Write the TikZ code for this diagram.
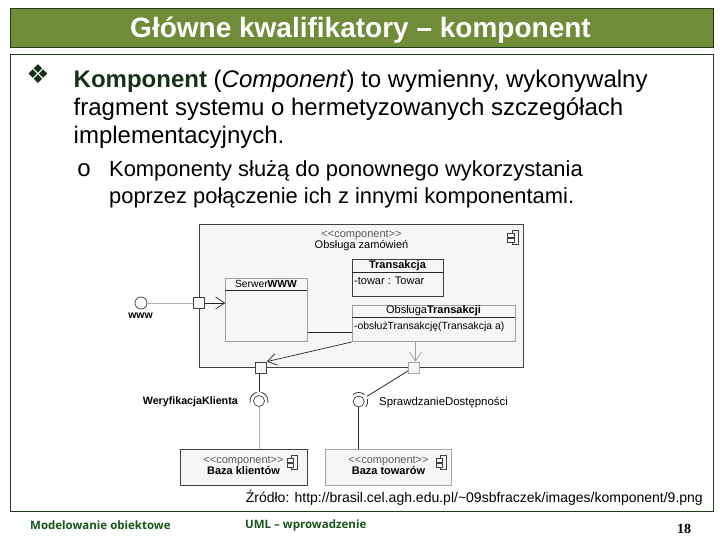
\documentclass[tikz,border=0pt]{standalone}
\usepackage{fontspec}
\setmainfont{Liberation Sans}
\newfontfamily\symfont{DejaVu Sans}
\newfontfamily\footfont[Ligatures=TeX]{Open Sans}
\newfontfamily\monofont{Liberation Mono}
\newfontfamily\numfont{Liberation Serif}
\usetikzlibrary{positioning, arrows.meta, calc}
\definecolor{titlebar}{RGB}{112, 140, 56}
\definecolor{edge}{RGB}{30, 60, 25}
\definecolor{boldtxt}{RGB}{22, 50, 22}
\definecolor{footgreen}{RGB}{25, 85, 25}
\definecolor{umlfill}{RGB}{246, 246, 246}
\newcommand{\stereo}{\textcolor{black!65}{<{}<component>{}>}}
\begin{document}
\begin{tikzpicture}[
    x=1pt, y=-1pt,
    >=Stealth,
    framebox/.style={
        rectangle, draw=edge, line width=0.8pt,
        anchor=north west, inner sep=0pt,
    },
    bodytext/.style={
        anchor=north west, align=left, inner sep=0pt,
        font=\fontsize{24}{28}\selectfont,
    },
    umlbox/.style={
        rectangle, draw=black!75, fill=umlfill, line width=0.9pt,
        anchor=north west, inner sep=0pt,
    },
    umlclass/.style={
        rectangle, draw=gray!75, fill=umlfill, line width=1pt,
        anchor=north west, inner sep=0pt,
    },
    port/.style={
        rectangle, draw=black!75, fill=umlfill, line width=0.8pt,
        minimum size=11pt, inner sep=0pt,
    },
    ball/.style={
        circle, draw=black!75, fill=white, line width=0.7pt,
        minimum size=#1, inner sep=0pt,
    },
    umllabel/.style={font=\fontsize{11}{11}\selectfont, inner sep=0pt, align=center},
    umlwire/.style={line width=0.8pt, draw=black!85},
    umlgray/.style={line width=1pt, draw=gray!60},
    socket/.style={line width=0.8pt, draw=black!80},
    openarrow/.style={-{Straight Barb[length=9pt,width=12pt]}, line width=0.7pt, draw=black!85},
    footlabel/.style={
        font=\footfont\bfseries\fontsize{11.5}{13}\selectfont,
        text=footgreen, anchor=west, inner sep=0pt,
    },
]
\path[use as bounding box, fill=white] (0,0) rectangle (720,540);

% =================================================
% Slide frame
% =================================================
\node[framebox, fill=titlebar, minimum width=703pt, minimum height=39pt] (titlebar) at (9.5,8.5) {};
\node[font=\bfseries\fontsize{28}{30}\selectfont, text=white, inner sep=0pt] (titletxt) at (360.5,30)
    {Główne kwalifikatory -- komponent};
\node[framebox, minimum width=703pt, minimum height=457pt] (bodyframe) at (9.5,54) {};

% =================================================
% Slide text
% =================================================
\node[font=\symfont\fontsize{26}{26}\selectfont, text=boldtxt, inner sep=0pt] (bullone) at (38,74) {❖};
\node[bodytext] (para) at (73.5,70)
    {\textcolor{boldtxt}{\textbf{Komponent}} (\textit{Component}) to wymienny, wykonywalny\\
    fragment systemu o hermetyzowanych szczegółach\\
    implementacyjnych.};
\node[font=\monofont\fontsize{24}{24}\selectfont, inner sep=0pt] (bulltwo) at (84,170) {o};
\node[bodytext, font=\fontsize{21.9}{27}\selectfont] (subpara) at (109,160)
    {Komponenty służą do ponownego wykorzystania\\
    poprzez połączenie ich z innymi komponentami.};

% =================================================
% Component boxes
% =================================================
\node[umlbox, minimum width=324.6pt, minimum height=143.6pt] (obsluga) at (198.7,223.7) {};
\node[umllabel] (obslugatxt) at (361.5,240.5)
    {\stereo\\Obsługa zamówień};
\draw[line width=0.7pt, draw=black!75] (512,230) rectangle (518.5,244);
\draw[line width=0.7pt, draw=black!75, fill=umlfill] (507.5,233) rectangle (514,237);
\draw[line width=0.7pt, draw=black!75, fill=umlfill] (507.5,238) rectangle (514,242);

\node[umlclass, minimum width=81.7pt, minimum height=63.3pt] (serwer) at (225.3,277.7) {};
\draw[line width=0.8pt, draw=black!85] (serwer.north west) ++(0,12.6) -- ++(81.7,0);
\node[umllabel, font=\fontsize{10.3}{11}\selectfont] (serwertxt) at (266,284) {Serwer\textbf{WWW}};

\node[umlclass, draw=black!75, minimum width=91pt, minimum height=36.4pt] (transakcja) at (351.7,259.3) {};
\draw[line width=0.8pt, draw=black!85] (transakcja.north west) ++(0,13) -- ++(91,0);
\node[umllabel] (transakcjatxt) at (397.5,266) {\textbf{Transakcja}};
\node[umllabel, anchor=west] (towartxt) at (354,281) {-towar : Towar};

\node[umlclass, minimum width=163.3pt, minimum height=36pt] (obtrans) at (351.7,305) {};
\draw[line width=0.8pt, draw=black!85] (obtrans.north west) ++(0,12.3) -- ++(163.3,0);
\node[umllabel] (obtranstxt) at (433.5,311) {Obsługa\textbf{Transakcji}};
\node[umllabel, anchor=west, font=\fontsize{10.4}{11}\selectfont] (obsluztxt) at (354,326.5) {-obsłużTransakcję(Transakcja a)};

\node[umlbox, minimum width=126.7pt, minimum height=35.4pt] (klienci) at (180,449.3) {};
\node[umllabel] (klientxt) at (243.5,465.5)
    {\stereo\\\textbf{Baza klientów}};
\node[umlbox, draw=gray!70, minimum width=126.7pt, minimum height=35.4pt] (towary) at (324.7,449.3) {};
\node[umllabel] (towartext) at (388.5,465.5)
    {\stereo\\\textbf{Baza towarów}};
\foreach \bx in {291,440} {
    \draw[line width=0.7pt, draw=black!75] (\bx,455) rectangle (\bx+6.5,469);
    \draw[line width=0.7pt, draw=black!75, fill=umlfill] (\bx-4,458) rectangle (\bx+2.5,462);
    \draw[line width=0.7pt, draw=black!75, fill=umlfill] (\bx-4,463) rectangle (\bx+2.5,467);
}

% =================================================
% Ports and balls
% =================================================
\node[port] (portwww) at (198.7,303) {};
\node[port] (portleft) at (261,367.5) {};
\node[port, draw=gray!70] (portright) at (413.5,367.5) {};
\node[ball=12pt] (ballwww) at (141,303) {};
\node[ball=11pt] (ballleft) at (259,401) {};
\node[ball=11pt] (ballright) at (358.7,401.5) {};
\node[umllabel, font=\bfseries\fontsize{10.5}{10}\selectfont] (wwwtxt) at (140.5,316) {www};
\node[umllabel, anchor=east, font=\bfseries\fontsize{10.7}{10}\selectfont] (weryftxt) at (238,401.5) {WeryfikacjaKlienta};
\node[umllabel, anchor=west, font=\fontsize{11.4}{10}\selectfont] (sprawdztxt) at (379,402) {SprawdzanieDostępności};

% =================================================
% Sockets
% =================================================
\draw[socket] (ballleft.center) ++(105:9pt) arc[start angle=105, end angle=190, radius=9pt];
\draw[socket] (ballleft.center) ++(75:9pt) arc[start angle=75, end angle=-10, radius=9pt];
\draw[socket] (ballright.center) ++(130:9pt) arc[start angle=130, end angle=50, radius=9pt];
\draw[socket] (ballright.center) ++(18:9pt) arc[start angle=18, end angle=-35, radius=9pt];

% =================================================
% Connectors
% =================================================
\draw[umlgray] (ballwww) -- (portwww);
\draw[openarrow] (portwww) -- (serwer.west |- portwww);
\draw[umlwire] (serwer.east |- 0,332.5) -- (obtrans.west |- 0,332.5);
\draw[openarrow] (obtrans.south west) -- (portleft.north east);
\draw[openarrow, draw=gray!75] ([xshift=2pt]obtrans.south -| portright) -- ([xshift=2pt]portright.north);
\draw[umlwire, shorten >=3pt] (ballleft |- portleft.south) -- (ballleft);
\draw[umlgray] (ballleft) -- (ballleft |- klienci.north);
\draw[umlwire, shorten >=4pt] (portright) -- (ballright);
\draw[umlwire] (ballright) -- (ballright |- towary.north);

% =================================================
% Source and footer
% =================================================
\node[anchor=east, inner sep=0pt, font=\fontsize{14}{15}\selectfont] (source) at (703,498)
    {Źródło: http://brasil.cel.agh.edu.pl/\textasciitilde 09sbfraczek/images/komponent/9.png};
\node[footlabel] (footleft) at (30,525.5) {Modelowanie obiektowe};
\node[footlabel] (footmid) at (245,525.5) {UML -- wprowadzenie};
\node[font=\numfont\bfseries\fontsize{14}{15}\selectfont, inner sep=0pt] (pagenum) at (684,528.5) {18};

\end{tikzpicture}
\end{document}
